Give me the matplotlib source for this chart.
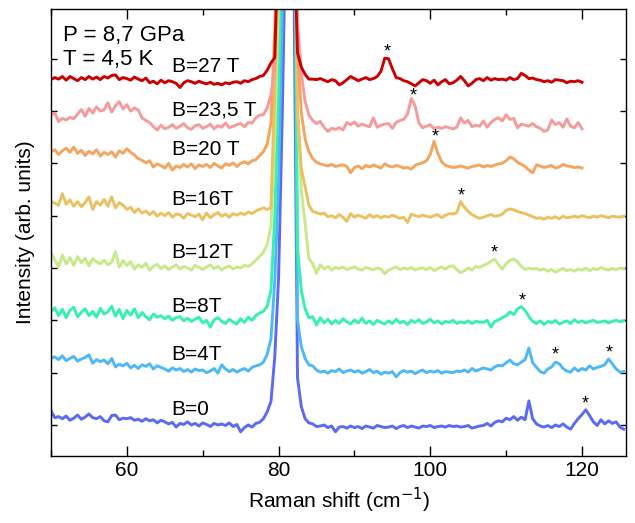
import numpy as np
import matplotlib
matplotlib.use("Agg")
import matplotlib.pyplot as plt
from matplotlib.ticker import MultipleLocator

plt.rcParams['font.family'] = ['Liberation Sans', 'DejaVu Sans']

# Raman shift grid (cm-1), spectra sampled every 0.5 cm-1
x_full = np.arange(50, 125.51, 0.5)
x_short = x_full[:141]          # the three top spectra stop at 120 cm-1

labels = ['B=0', 'B=4T', 'B=8T', 'B=12T', 'B=16T', 'B=20 T', 'B=23,5 T', 'B=27 T']
colors = ['#5b6af4', '#4cb8fa', '#36f0ae', '#c6e98a', '#ecc060', '#f4a45e', '#f69a9a', '#cc0000']
offsets = [0.0, 1.05, 1.97, 3.0, 4.0, 4.97, 5.72, 6.56]

# intensities above each baseline, in hundredths of an arb. unit
b0 = [27, 14, 16, 12, 17, 9, 13, 19, 11, 15,
      21, 14, 12, 16, 8, 6, 18, 19, 10, 13,
      12, 14, 9, 11, 7, 12, 8, 10, 4, 9,
      6, 2, 5, -4, 3, 1, 6, 0, 3, -2,
      4, 1, -3, 3, 0, 2, -1, 4, -3, 1,
      -13, -5, 0, -4, 3, 5,
      12, 25, 45, 130, 280, 600, 1000, 2000, 900, 90, 35, 12, 4,
      2, -3, -2, 0, -5, -2, -13, -4, -3, -6,
      -2, -5, -3, -7, -2, -4, -6, -1, -3, -5,
      -4, -2, -7, -3, -1, -5, -2, -4, -6, -2,
      -3, -1, -5, -3, -2, -4, -1, -3, -2, -4,
      -3, -1, -6, -4, -2, -1, 3, -2, 5, 8,
      6, 13, 10, 16, 9, 15, 10, 46, 12, 2,
      -2, -4, -1, -5, 0, -3, 2, -4, -8, 3,
      12, 20, 29, 18, 6, -1, 10, 2, 8, 3,
      6, -4, -8]
b4 = [23, 25, 20, 27, 18, 22, 26, 17, 21, 24,
      29, 13, 20, 16, 19, 12, 22, 6, 11, 8,
      13, 4, 9, 3, 10, 7, 12, 2, 8, 5,
      2, -2, 4, 0, 3, -3, 1, -4, 2, -1,
      0, -5, -2, 3, -6, 10, 2, -3, 1, -4,
      0, 3, -2, 5, 8, 10,
      15, 30, 60, 170, 360, 700, 1100, 2000, 1100, 95, 45, 22, 10,
      8, 0, -4, -2, -6, -1, -3, 2, -5, -2,
      0, -4, -1, -6, -3, 1, -5, -2, -8, -4,
      -6, -3, -13, -5, -1, -4, -2, -7, -3, 0,
      -5, -2, -4, -1, -6, -3, -4, -5, -2, -3,
      0, -4, 3, -2, 1, 4, 2, 0, 6, 9,
      8, 14, 19, 12, 10, 15, 20, 42, 14, 5,
      -3, -6, 2, 6, 15, 12, 3, -2, -4, 4,
      -2, 3, 0, 8, 2, 5, 7, 10, 21, 12,
      2, -4, -3]
b8 = [20, 27, 12, 24, 8, 22, 28, 10, 18, 25,
      12, 20, 9, 26, 15, 19, 30, 11, 24, 6,
      22, 13, 25, 8, 18, 10, 4, 15, 9, 12,
      6, 11, 3, 8, 10, 2, 7, 1, 5, 9,
      -2, 3, -10, 4, 8, 1, -3, 5, 0, -4,
      6, -1, 9, 3, 12, 17,
      20, 30, 60, 200, 450, 800, 1200, 2000, 1200, 140, 60, 25, 8,
      10, -6, 8, -2, 5, -4, 3, -3, 6, 0,
      -4, 4, -2, 7, -3, 2, -5, 3, -1, -4,
      2, -3, 5, -2, 1, -5, 3, -1, 4, -3,
      0, 5, -2, 2, -4, 1, -1, 3, -3, 0,
      -2, 2, -3, 1, 0, -1, 3, -10, 1, 4,
      8, 12, 19, 14, 25, 29, 22, 10, 1, -3,
      2, -5, 1, -2, 3, -4, -1, 2, -3, 4,
      -1, 2, -2, 1, 3, -1, 0, 2, -2, 1,
      3, 0, 2]
b12 = [29, 15, 2, 25, 8, 20, 5, 22, 10, 19,
       4, 18, 12, 8, 15, 6, 11, 31, 2, 14,
       5, 12, -2, 6, 1, 9, -4, 3, 7, -1,
       4, -3, 2, 6, -2, 3, 0, -4, 5, 1,
       -3, 2, 6, -1, 3, -4, 1, 4, -2, 2,
       0, 5, 3, 8, 15, 22,
       30, 45, 80, 250, 500, 900, 1300, 2000, 1200, 300, 150, 85, 18,
       8, -10, 6, -2, 3, -4, 1, -1, 2, -3,
       0, 2, -2, -4, 1, -1, -3, 0, -2, -11,
       -4, -1, 2, -3, 0, -2, 1, -4, -1, 0,
       -3, 1, -5, -1, 2, -2, 3, 4, -3, -9,
       -5, 0, -4, 3, 1, 5, 8, 13, 17, 6,
       -2, 8, 15, 17, 12, 3, -3, 0, -2, -1,
       -4, -2, -6, -3, -8, -4, -1, -5, -3, -6,
       -2, -4, 0, -5, -1, -3, 1, -2, -4, -1,
       -3, 0, -2]
b16 = [27, 24, 20, 42, 22, 30, 18, 27, 17, 25,
       36, 12, 27, 20, 31, 18, 36, 15, 25, 20,
       12, 16, 6, 13, 5, 9, 2, 8, -1, 5,
       0, 6, -3, 3, 2, -5, 4, 1, -2, 3,
       -8, 5, -4, 2, 6, -1, 3, -3, 4, 1,
       5, 2, 7, 4, 9, 12,
       15, 12, 15, 250, 500, 900, 1300, 2000, 1200, 200, 90, 55, 20,
       8, 6, 3, 5, -2, 0, -4, 2, -3, -11,
       4, -3, 1, -2, -5, 2, -3, 0, -4, -1,
       -3, 1, -2, -5, -3, -13, 3, 0, -2, 1,
       -1, -3, 0, 2, -4, 1, 4, 3, 6, 27,
       16, 8, 2, -2, -5, -3, 0, 2, -1, 0,
       3, 10, 13, 11, 8, 6, 4, 1, -2, -5,
       -4, -7, -3, -5, -2, -6, -1, -4, -3, -1,
       -3, 0, -2, -4, -1, -3, 0, -2, -4, -1,
       -2, -3, -1]
b20 = [25, 29, 20, 27, 32, 24, 34, 22, 28, 18,
       26, 21, 29, 17, 24, 20, 25, 15, 27, 22,
       31, 24, 19, 12, 9, 4, 8, -4, 2, -1,
       -6, 3, -10, -2, -5, 1, -4, 2, -7, 0,
       -3, 1, -5, 3, -2, -6, 2, -1, 4, -3,
       3, 6, 2, 8, 10, 18,
       25, 40, 80, 260, 500, 900, 1300, 2000, 1200, 220, 100, 50, 25,
       12, 5, 2, 0, -2, 1, -3, -1, 0, -3,
       -15, -5, -2, -7, -1, -4, 0, -3, -6, 2,
       -2, -4, -1, -3, -6, -5, -8, -1, 2, 4,
       8, 20, 45, 22, 6, -1, -3, -5, -4, -2,
       -4, -6, -3, -2, 0, -4, -1, -3, 0, 2,
       3, 8, 15, 12, 5, 1, -3, -10, -15, 0,
       -2, -5, -3, -1, -6, -4, 1, -2, -3, -5,
       -4, -6]
b23 = [21, 24, 8, 14, 11, 16, 13, 22, 31, 18,
       33, 24, 36, 28, 30, 44, 26, 38, 46, 32,
       40, 28, 34, 30, 15, 10, 6, -2, -8, 1,
       -6, -3, 2, -5, -1, 4, -4, -7, 0, 2,
       -5, -2, 3, -6, 0, -3, 5, -4, -1, 2,
       4, -2, 6, 5, 15, 20,
       21, 34, 59, 110, 450, 900, 1300, 2000, 1200, 200, 100, 46, 20,
       10, 4, 8, -3, -11, -5, -7, -4, -8, 6,
       2, 7, -1, 3, 0, -2, 15, -3, 1, 3,
       4, -5, 6, 10, 12, 22, 52, 38, 5, -4,
       -1, 2, -6, -3, -5, -2, -4, -6, -3, 15,
       5, 10, -2, 1, -1, 9, -3, 6, 12, 15,
       9, 21, 12, 14, -4, 3, 1, -1, 4, -2,
       -5, -11, -8, 11, 2, 6, -3, 13, -1, -4,
       6, -6]
b27 = [4, 8, 5, 10, 3, 10, 6, 2, 8, 4,
       10, 5, 9, 4, 10, 7, 12, 13, 4, 8,
       6, 3, 9, 5, 2, 7, -2, 1, -4, 3,
       -2, 2, 0, -3, -11, -2, 2, 0, -3, 1,
       -2, -4, -1, -5, -3, -6, -2, -4, -1, 0,
       -3, 2, 0, 4, 6, 10,
       12, 22, 36, 46, 300, 800, 1200, 2000, 300, 55, 28, 14, 5,
       5, 4, 6, 3, 0, 4, 2, -6, -2, 4,
       10, 6, 2, 5, 8, 4, 6, 10, 20, 45,
       44, 25, 8, 6, 2, 0, -4, -8, -2, 4,
       2, -3, 3, -6, 0, 4, -4, -2, 3, 10,
       2, -8, -3, 4, 6, 2, 8, 3, 6, 4,
       5, 3, 8, 4, 6, 16, 12, 6, 7, 4,
       3, 0, 2, -1, 4, 3, 2, -2, 1, 0,
       2, -1]
spectra = [b0, b4, b8, b12, b16, b20, b23, b27]

# marked modes (*): which spectrum and where
star_series = [7, 6, 5, 4, 3, 2, 1, 1, 0]
star_x = [94.3, 97.8, 100.6, 104.1, 108.4, 112.1, 116.5, 123.6, 120.4]

fig = plt.figure(figsize=(6.35, 5.23), dpi=100)
ax = fig.add_axes([0.0803, 0.1281, 0.9055, 0.8547])

curves = []
for i, s in enumerate(spectra):
    xs = x_full if len(s) == len(x_full) else x_short
    ys = np.array(s) / 100.0 + offsets[i]
    curves.append((xs, ys))
    ax.plot(xs, ys, color=colors[i], lw=2.1, solid_joinstyle='round')
    ax.text(65.9, offsets[i] + 0.3, labels[i], fontsize=15, ha='left', va='center')

for k, sx in zip(star_series, star_x):
    xs, ys = curves[k]
    ax.text(sx, np.interp(sx, xs, ys) + 0.13, '*', fontsize=13, ha='center', va='center')

ax.text(0.021, 0.941, 'P = 8,7 GPa', transform=ax.transAxes, fontsize=16, va='center')
ax.text(0.021, 0.886, 'T = 4,5 K', transform=ax.transAxes, fontsize=16, va='center')

ax.set_xlim(50, 125.8)
ax.set_ylim(-0.593, 7.95)
ax.xaxis.set_major_locator(MultipleLocator(20))
ax.xaxis.set_minor_locator(MultipleLocator(10))
ax.yaxis.set_major_locator(MultipleLocator(1))
ax.set_yticklabels([])
ax.tick_params(axis='x', which='major', direction='in', length=7, width=1, top=True, labelsize=15)
ax.tick_params(axis='x', which='minor', direction='in', length=4, width=1, top=True)
ax.tick_params(axis='y', which='major', direction='in', length=4.5, width=1, right=True)
for sp in ax.spines.values():
    sp.set_linewidth(1.0)

ax.set_xlabel('Raman shift (cm$^{-1}$)', fontsize=15, labelpad=4)
ax.set_ylabel('Intensity (arb. units)', fontsize=15, labelpad=8)

fig.savefig('out.png', dpi=100)
